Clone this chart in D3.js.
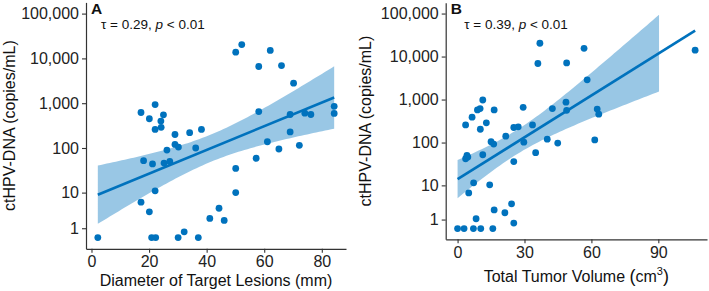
<!DOCTYPE html>
<html>
<head>
<meta charset="utf-8">
<script src="https://cdn.jsdelivr.net/npm/d3@7"></script>
<style>
  body { margin: 0; background: #fff; }
  svg { display: block; font-family: "Liberation Sans", Arial, sans-serif; }
</style>
</head>
<body>
<svg id="drawing_region"></svg>
<script>
// panel A: diameter of target lesions (mm) vs ctHPV-DNA (copies/mL)
const diameterA = [2.2, 17.2, 22.1, 20.1, 25, 24.1, 24.2, 22.1, 29, 34.1, 38.2, 29, 30.2, 26.2, 36.2,
  18.1, 21.2, 25.2, 27.2, 22.1, 17.2, 20.1, 20.9, 22.3, 30.1, 32.2, 37.1, 41.1, 44.3, 46.1,
  50.1, 52.2, 62.1, 58.1, 66, 70.2, 58.1, 69, 74.1, 76.2, 84.3, 84.3, 69, 61.1, 65.1, 72.2, 57.2, 50.1, 50.1];
const dnaA = [0, 620, 930, 450, 550, 400, 290, 260, 200, 220, 260, 120, 105, 90, 100,
  52, 44, 46, 50, 11, 6, 3.5, 0, 0, 0, 0.6, 0, 2.3, 4.3, 2,
  13800, 20400, 15100, 6600, 6900, 2800, 650, 560, 600, 560, 850, 590, 228, 138, 95, 115, 59, 35, 10];

// panel B: total tumor volume (cm3) vs ctHPV-DNA (copies/mL)
const volumeB = [0, 2.9, 7.1, 10.4, 15.8, 8.3, 16.4, 21.2, 24.2, 25.2, 5.0, 7.2, 14.4, 3.6, 4.2, 4.6,
  11.3, 25.2, 15.0, 16.2, 21.6, 25.2, 27.2, 29.7, 33.6, 35.0, 40.2, 44.9, 42.5, 48.6, 48.9,
  29.4, 16.4, 11.3, 8.9, 10.1, 6.5, 3.6, 10.2, 12.9, 36.9, 36.0, 48.9, 56.7, 58.1, 62.6, 63.3, 61.5, 106.5];
const dnaB = [0, 0, 0, 0, 0, 1.1, 2.35, 1.9, 3.5, 0.6, 6.6, 11.5, 10.3, 42, 50, 46,
  52, 36, 105, 92, 141, 224, 232, 102, 257, 58, 120, 97, 617, 870, 562,
  660, 575, 977, 575, 617, 390, 257, 204, 287, 20400, 6900, 7100, 15500, 2880, 600, 457, 115, 14100];

const yTickValues = [1, 10, 100, 1000, 10000, 100000];
const xTicksA = [0, 20, 40, 60, 80];
const xTicksB = [0, 30, 60, 90];

// pseudo-log transform (asinh(x/2)/ln 10), as used for the y axis
const tr = v => Math.asinh(v / 2) / Math.LN10;
const inv = t => 2 * Math.sinh(t * Math.LN10);

class ScatterPanel {

  constructor( config, xs, ys ) {
    this.config = config;
    this.data = xs.map( (x, i) => ({x: x, y: ys[i]}) );
    this.init();
  }

  init() {
    let self = this;
    let c = self.config;

    self.chart = d3.select( c.parent ).append('g');

    let ext = d3.extent( self.data, d => d.x );
    let pad = (ext[1] - ext[0]) * 0.05;
    self.x = d3.scaleLinear()
      .domain([ext[0] - pad, ext[1] + pad])
      .range([c.left, c.right]);

    self.y = d3.scaleLinear()
      .domain([-0.25, 5.25])
      .range([c.bottom, c.top]);

    self.fit = self.linFit();
  }

  linFit() {
    let self = this;
    let n = self.data.length;
    let mx = d3.mean( self.data, d => d.x );
    let mt = d3.mean( self.data, d => tr(d.y) );
    let sxx = d3.sum( self.data, d => (d.x - mx) ** 2 );
    let sxy = d3.sum( self.data, d => (d.x - mx) * (tr(d.y) - mt) );
    let b = sxy / sxx;
    let a = mt - b * mx;
    let sse = d3.sum( self.data, d => (tr(d.y) - a - b * d.x) ** 2 );
    let s = Math.sqrt( sse / (n - 2) );
    return {a: a, b: b, s: s, n: n, mx: mx, sxx: sxx};
  }

  render() {
    let self = this;
    let c = self.config;
    let f = self.fit;
    let blue = '#0072BD';
    let ext = d3.extent( self.data, d => d.x );

    // confidence band (95%), dropped where it runs past the 100,000 limit
    let q = 2.0117;
    let band = d3.range(80).map( i => {
      let x = ext[0] + i * (ext[1] - ext[0]) / 79;
      let m = f.a + f.b * x;
      let se = f.s * Math.sqrt( 1 / f.n + (x - f.mx) ** 2 / f.sxx );
      return {x: x, fit: m, lo: m - q * se, hi: m + q * se};
    }).filter( d => inv(d.hi) <= 100000 );

    self.chart.append('path')
      .datum( band )
      .attr('d', d3.area().x(d => self.x(d.x)).y0(d => self.y(d.lo)).y1(d => self.y(d.hi)))
      .attr('fill', blue)
      .attr('fill-opacity', 0.4);

    self.chart.append('path')
      .datum( ext )
      .attr('d', d3.line().x(d => self.x(d)).y(d => self.y(f.a + f.b * d)))
      .attr('stroke', blue)
      .attr('stroke-width', 2.6)
      .attr('fill', 'none');

    self.chart.selectAll('circle')
      .data( self.data )
      .enter()
      .append('circle')
      .attr('cx', d => self.x(d.x))
      .attr('cy', d => self.y(tr(d.y)))
      .attr('r', 3.4)
      .attr('fill', blue);

    // axes
    let yAxis = d3.axisLeft( self.y )
      .tickValues( yTickValues.map(tr) )
      .tickFormat( (d, i) => d3.format(',')(yTickValues[i]) )
      .tickSize(4).tickSizeOuter(0).tickPadding(3);
    let xAxis = d3.axisBottom( self.x )
      .tickValues( c.xTicks )
      .tickSize(4).tickSizeOuter(0).tickPadding(3);

    let ya = self.chart.append('g')
      .attr('transform', `translate(${c.left},0)`)
      .call( yAxis );
    let xa = self.chart.append('g')
      .attr('transform', `translate(0,${c.bottom})`)
      .call( xAxis );

    [ya, xa].forEach( g => {
      g.select('.domain').attr('stroke', '#333').attr('stroke-width', 1.2);
      g.selectAll('.tick line').attr('stroke', '#333').attr('stroke-width', 1.1);
      g.selectAll('.tick text')
        .attr('font-size', '16px')
        .attr('font-family', '"Liberation Sans", Arial, sans-serif')
        .attr('fill', '#222');
    });

    // panel letter and annotation
    self.chart.append('text')
      .attr('x', c.left + 5)
      .attr('y', 14)
      .attr('font-size', '15.5px')
      .attr('font-weight', 'bold')
      .attr('fill', '#111')
      .text( c.letter );

    let ann = self.chart.append('text')
      .attr('x', c.left + c.annDx)
      .attr('y', 28.5)
      .attr('font-size', '13.5px')
      .attr('fill', '#111');
    ann.append('tspan').text(`\u03C4 = ${c.tau}, `);
    ann.append('tspan').attr('font-style', 'italic').text('p');
    ann.append('tspan').text(' < 0.01');

    // axis titles
    self.chart.append('text')
      .attr('transform', `translate(${c.yTitleX},${(c.top + c.bottom) / 2}) rotate(-90)`)
      .attr('text-anchor', 'middle')
      .attr('font-size', '16px')
      .attr('fill', '#111')
      .text('ctHPV-DNA (copies/mL)');

    let xt = self.chart.append('text')
      .attr('x', (c.left + c.right) / 2)
      .attr('y', c.xTitleY)
      .attr('text-anchor', 'middle')
      .attr('font-size', '16px')
      .attr('fill', '#111');
    if (c.cubic) {
      xt.append('tspan').text('Total Tumor Volume ');
      xt.append('tspan').attr('font-size', '18px').text('(');
      xt.append('tspan').text('cm');
      xt.append('tspan').attr('font-size', '11px').attr('dy', -7).text('3');
      xt.append('tspan').attr('font-size', '18px').attr('dy', 7).text(')');
    } else {
      xt.text('Diameter of Target Lesions (mm)');
    }
  }
}

d3.select('#drawing_region')
  .attr('width', 709)
  .attr('height', 291);

const panelA = new ScatterPanel({
  parent: '#drawing_region', left: 86, right: 346, top: 2.4, bottom: 248.8,
  xTicks: xTicksA, letter: 'A', tau: '0.29', annDx: 15, yTitleX: 15, xTitleY: 286, cubic: false
}, diameterA, dnaA);
panelA.render();

const panelB = new ScatterPanel({
  parent: '#drawing_region', left: 445.7, right: 707, top: 2.8, bottom: 239.3,
  xTicks: xTicksB, letter: 'B', tau: '0.39', annDx: 18.5, yTitleX: 371, xTitleY: 281.5, cubic: true
}, volumeB, dnaB);
panelB.render();
</script>
</body>
</html>
